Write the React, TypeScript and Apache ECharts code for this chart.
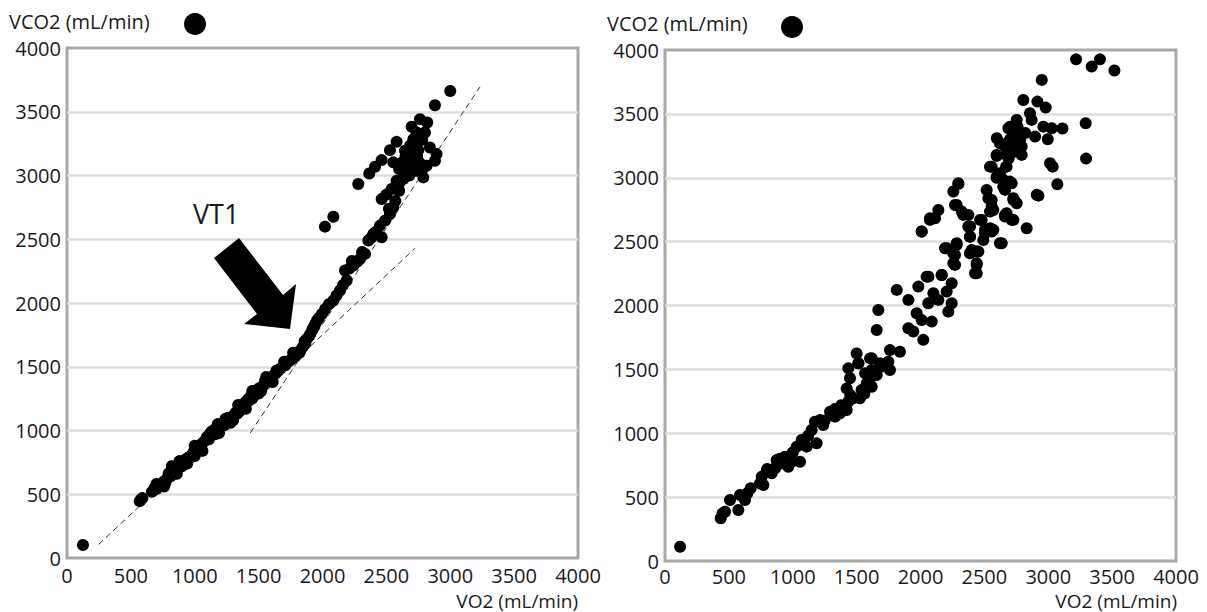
import React, { useEffect, useRef } from "react";
import * as echarts from "echarts";

const FONT = "'Open Sans', 'Noto Sans', sans-serif";

const xTicks = [0, 500, 1000, 1500, 2000, 2500, 3000, 3500, 4000];
const axisTitleY = "VCO2 (mL/min)";
const axisTitleX = "VO2 (mL/min)";
const annotation = "VT1";

// Left chart: VO2 vs VCO2 (mL/min)
const leftPoints: number[][] = [
  [125, 102], [569, 446], [579, 459], [590, 470], [665, 519], [684, 546], [700, 540], [744, 572],
  [757, 598], [770, 590], [796, 663], [810, 640], [835, 702], [850, 690], [874, 715], [890, 735],
  [913, 741], [925, 770], [939, 780], [955, 790], [978, 806], [990, 830], [1017, 846], [1030, 870],
  [1057, 898], [1075, 915], [1096, 950], [1120, 975], [1148, 1002], [1175, 1025], [1200, 1041],
  [1225, 1055], [1252, 1067], [1280, 1095], [1305, 1120], [1320, 1140], [1344, 1159], [1365, 1180],
  [1383, 1198], [1400, 1225], [1422, 1250], [1440, 1270], [1461, 1289], [1480, 1310], [1500, 1328],
  [1520, 1340], [1539, 1354], [1560, 1375], [1578, 1393], [1600, 1420], [1631, 1446], [1650, 1465],
  [1670, 1485], [1709, 1511], [1740, 1545], [1787, 1581], [1800, 1600], [1826, 1628], [1845, 1655],
  [1865, 1680], [1878, 1719], [1895, 1740], [1905, 1758], [1920, 1790], [1931, 1811], [1945, 1840],
  [1957, 1863], [1970, 1880], [1996, 1915], [2022, 1954], [2050, 1990], [2085, 2020], [2110, 2060],
  [2137, 2098], [2160, 2140], [2189, 2176], [2176, 2255], [2210, 2270], [2241, 2294], [2265, 2320],
  [2293, 2346], [2333, 2385], [2359, 2490], [2380, 2510], [2398, 2542], [2463, 2516], [2450, 2607],
  [2489, 2646], [2528, 2698], [2554, 2750], [2463, 2815], [2500, 2850], [2541, 2894], [2580, 2959],
  [2600, 2940], [2633, 2972], [2672, 3037], [2737, 3037], [2776, 3037], [2789, 2985], [2815, 3076],
  [2880, 3116], [2893, 3168], [2841, 3220], [2685, 3233], [2646, 3194], [2711, 3285], [2737, 3337],
  [2802, 3337], [2698, 3382], [2763, 3442], [2820, 3416], [2880, 3551], [3000, 3663], [2580, 3264],
  [2528, 3199], [2463, 3121], [2411, 3069], [2366, 3016], [2554, 3103], [2280, 2933], [2085, 2677],
  [2019, 2599], [2620, 3100], [2650, 3150], [2700, 3150], [2750, 3200], [2760, 3100], [2680, 3000],
  [2600, 3050], [2720, 3250], [2780, 3280], [2700, 3080], [2740, 3150],
  [730, 575], [780, 620], [820, 690], [860, 700], [900, 720], [950, 770], [1000, 800], [1050, 860],
  [1110, 930], [1160, 970], [1180, 1050], [1230, 1040], [1260, 1100], [1280, 1060], [1330, 1130],
  [1350, 1150], [1370, 1200], [1420, 1230], [1450, 1250], [1470, 1280], [1520, 1310], [1550, 1390],
  [1600, 1400], [1640, 1470], [1700, 1540], [1760, 1560], [1770, 1610], [1820, 1610], [1860, 1700],
  [2230, 2330], [2310, 2400], [2420, 2560], [2520, 2740], [2570, 2800], [2600, 2880],
  [700, 580], [760, 560], [820, 720], [860, 660], [880, 760], [940, 740], [1000, 880], [1060, 840],
  [1130, 990], [1190, 980], [1240, 1090], [1300, 1080], [1340, 1200], [1400, 1170], [1450, 1310],
  [1500, 1290], [1560, 1420], [1610, 1380],
];

// Dashed reference lines (left chart)
const lineLow: number[][] = [[248, 107], [2724, 2429]];
const lineHigh: number[][] = [[1435, 981], [3233, 3695]];

// Right chart: VO2 vs VCO2 (mL/min)
const rightPoints: number[][] = [
  [118, 112], [436, 334], [451, 373], [470, 386], [509, 477], [574, 399], [587, 517], [626, 477],
  [645, 530], [671, 569], [744, 608], [770, 595], [757, 660], [796, 699], [835, 686], [861, 725],
  [874, 790], [913, 764], [939, 817], [965, 738], [992, 777], [1057, 777], [1031, 895], [1070, 947],
  [1109, 895], [1187, 921], [1148, 1025], [1174, 1090], [1213, 1103], [1239, 1064], [1292, 1169],
  [1331, 1130], [1370, 1156], [1422, 1182], [1435, 1247], [1474, 1273], [1526, 1273], [1539, 1338],
  [1422, 1351], [1448, 1430], [1435, 1508], [1513, 1547], [1500, 1625], [1605, 1586], [1605, 1469],
  [1657, 1456], [1579, 1391], [1618, 1364], [1683, 1547], [1748, 1560], [1761, 1495], [1761, 1651],
  [1839, 1638], [1657, 1808], [800, 720], [880, 760], [900, 800], [950, 780], [1000, 850],
  [1090, 930], [1120, 980], [1250, 1100], [1300, 1140], [1330, 1190], [1380, 1220], [1450, 1300],
  [1560, 1310], [1600, 1400], [1514, 1548], [1566, 1470], [1618, 1496], [1618, 1587], [1696, 1522],
  [1670, 1965], [1814, 2122], [1905, 2044], [1905, 1822], [1944, 1796], [1970, 1939], [1983, 2148],
  [2022, 1731], [2009, 1887], [2048, 2226], [2061, 2018], [2088, 1874], [2101, 2096], [2140, 2044],
  [2166, 2239], [2205, 2109], [2218, 1952], [2244, 2174], [2244, 2018], [2192, 2448], [2257, 2409],
  [2270, 2318], [2283, 2474], [2387, 2409], [2440, 2422], [2440, 2318], [2427, 2252], [2387, 2539],
  [2374, 2618], [2335, 2709], [2283, 2787], [2257, 2892], [2296, 2957], [2009, 2579], [2074, 2670],
  [2140, 2748], [2114, 2683], [2479, 2670], [2505, 2565], [2544, 2605], [2570, 2592], [2518, 2905],
  [2557, 2826], [2570, 2748], [2622, 2487], [2661, 2696], [2727, 2670], [2674, 2722], [2727, 2826],
  [2753, 2800], [2831, 2605], [2910, 2866], [2544, 3087], [2596, 3000], [2622, 3035], [2674, 3087],
  [2648, 2931], [2700, 2970], [2596, 3179], [2674, 3179], [2792, 3179], [2622, 3270], [2727, 3270],
  [3218, 3927], [3340, 3870], [3405, 3927], [3518, 3839], [2949, 3766], [2805, 3609], [2915, 3596],
  [2980, 3549], [2857, 3505], [2870, 3453], [2962, 3400], [3027, 3387], [3111, 3385], [3293, 3427],
  [2996, 3301], [2897, 3322], [2753, 3453], [2688, 3387], [2727, 3322], [2597, 3309], [2662, 3244],
  [2792, 3244], [2597, 3171], [2557, 3087], [2670, 3087], [3014, 3113], [3035, 3087], [3296, 3150],
  [2597, 3009], [2649, 2983], [2714, 2957], [2662, 2905], [3071, 2949], [2923, 2860], [2297, 2952],
  [2531, 2839], [2557, 2774], [2727, 2839], [2270, 2787], [2323, 2735], [2375, 2709], [2466, 2670],
  [2544, 2735], [2662, 2709], [2714, 2670], [2075, 2683], [2010, 2579], [2388, 2618], [2505, 2592],
  [2557, 2579], [2492, 2513], [2636, 2487], [2388, 2539], [2205, 2448], [2283, 2487], [2270, 2396],
  [2401, 2435], [2453, 2422], [2257, 2331], [2440, 2331], [2440, 2252], [2166, 2239], [2062, 2226],
  [2700, 3300], [2750, 3350], [2720, 3200], [2780, 3300], [2700, 3400], [2760, 3400], [2740, 3260],
  [2680, 3250], [2820, 3350], [2690, 3150],
];

const TEXT = "#1a1a1a";
const plain = (v: number) => String(v);

function makeX(gridIndex: number, margin: number) {
  return {
    type: "value",
    gridIndex,
    min: xTicks[0],
    max: xTicks[xTicks.length - 1],
    interval: 500,
    axisLine: { show: false },
    axisTick: { show: false },
    splitLine: { show: false },
    axisLabel: { color: TEXT, fontSize: 20, fontFamily: FONT, margin, lineHeight: 18, formatter: plain },
  };
}

function makeY(gridIndex: number) {
  return {
    type: "value",
    gridIndex,
    min: 0,
    max: 4000,
    interval: 500,
    axisLine: { show: false },
    axisTick: { show: false },
    splitLine: {
      show: true,
      showMinLine: false,
      showMaxLine: false,
      lineStyle: { color: "#dddddd", width: 2.5 },
    },
    axisLabel: { color: TEXT, fontSize: 20, fontFamily: FONT, margin: 6, formatter: plain },
  };
}

const titleStyle = { fontSize: 20, fontWeight: "normal", color: TEXT, fontFamily: FONT, lineHeight: 20 };
const xTitleStyle = { fontSize: 19, fontWeight: "normal", color: TEXT, fontFamily: FONT, lineHeight: 19 };

export default function App() {
  const ref = useRef<HTMLDivElement>(null);
  useEffect(() => {
    if (!ref.current) return;
    const chart = echarts.init(ref.current, undefined, { renderer: "svg" });
    chart.setOption({
      animation: false,
      backgroundColor: "#ffffff",
      title: [
        { text: axisTitleY, left: 9, top: 11, padding: 0, textStyle: titleStyle },
        { text: axisTitleY, left: 607, top: 13, padding: 0, textStyle: titleStyle },
        { text: axisTitleX, right: 629, top: 591, padding: 0, textStyle: xTitleStyle },
        { text: axisTitleX, right: 30, top: 591, padding: 0, textStyle: xTitleStyle },
        {
          text: annotation, left: 193, top: 198, padding: 0,
          textStyle: { fontSize: 27, fontWeight: "normal", color: TEXT, fontFamily: FONT, lineHeight: 30 },
        },
      ],
      grid: [
        { left: 67, top: 48, width: 511, height: 510, show: true, borderColor: "#a8a8a8", borderWidth: 3, backgroundColor: "#fff" },
        { left: 665, top: 50, width: 511, height: 511, show: true, borderColor: "#a8a8a8", borderWidth: 3, backgroundColor: "#fff" },
      ],
      xAxis: [makeX(0, 8), makeX(1, 6)],
      yAxis: [makeY(0), makeY(1)],
      graphic: [
        { type: "circle", shape: { cx: 195, cy: 24, r: 11 }, style: { fill: "#000" } },
        { type: "circle", shape: { cx: 792, cy: 27, r: 11 }, style: { fill: "#000" } },
        {
          type: "polygon",
          z: 100,
          shape: {
            points: [[214, 258], [239, 238], [283, 295], [296, 284], [290, 329], [244, 324], [257, 314]],
          },
          style: { fill: "#000" },
        },
      ],
      series: [
        {
          type: "line",
          xAxisIndex: 0,
          yAxisIndex: 0,
          data: lineLow,
          symbol: "none",
          lineStyle: { color: "#333", width: 1, type: [6, 4] },
          z: 1,
        },
        {
          type: "line",
          xAxisIndex: 0,
          yAxisIndex: 0,
          data: lineHigh,
          symbol: "none",
          lineStyle: { color: "#333", width: 1, type: [6, 4] },
          z: 1,
        },
        {
          type: "scatter",
          xAxisIndex: 0,
          yAxisIndex: 0,
          data: leftPoints,
          symbolSize: 12,
          itemStyle: { color: "#000", opacity: 1 },
          z: 2,
        },
        {
          type: "scatter",
          xAxisIndex: 1,
          yAxisIndex: 1,
          data: rightPoints,
          symbolSize: 12,
          itemStyle: { color: "#000", opacity: 1 },
          z: 2,
        },
      ],
    });
    return () => chart.dispose();
  }, []);
  return (
    <div
      ref={ref}
      style={{ position: "fixed", left: 0, top: 0, width: 1207, height: 612, background: "#fff" }}
    />
  );
}
